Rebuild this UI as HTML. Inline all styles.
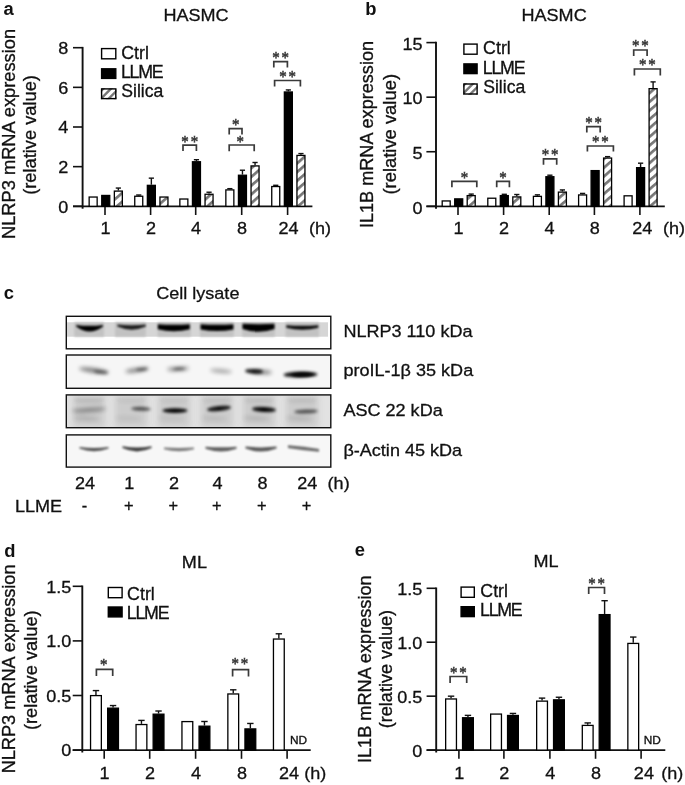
<!DOCTYPE html>
<html lang="en"><head><meta charset="utf-8"><title>Figure</title>
<style>
html,body{margin:0;padding:0;background:#fff;}
body{width:685px;height:785px;overflow:hidden;}
svg{display:block;}
.s{font-family:"Liberation Sans",Arial,Helvetica,sans-serif;}
.r{font-family:"Liberation Serif","Times New Roman",serif;}
</style></head><body>
<svg width="685" height="785" viewBox="0 0 685 785">
<defs>
<pattern id="hatch" patternUnits="userSpaceOnUse" width="6.6" height="6.6" patternTransform="rotate(-41)">
<rect x="0" y="0" width="6.6" height="6.6" fill="#fff"/>
<rect x="0" y="0" width="6.6" height="2.7" fill="#777"/>
</pattern>
<filter id="b05" x="-20%" y="-50%" width="140%" height="200%"><feGaussianBlur stdDeviation="0.8"/></filter>
<filter id="b08" x="-20%" y="-100%" width="140%" height="300%"><feGaussianBlur stdDeviation="0.8"/></filter>
<filter id="b1" x="-20%" y="-100%" width="140%" height="300%"><feGaussianBlur stdDeviation="1.0"/></filter>
<filter id="b12" x="-20%" y="-100%" width="140%" height="300%"><feGaussianBlur stdDeviation="1.25"/></filter>
<filter id="b15" x="-30%" y="-200%" width="160%" height="500%"><feGaussianBlur stdDeviation="1.5"/></filter>
<filter id="b2" x="-30%" y="-200%" width="160%" height="500%"><feGaussianBlur stdDeviation="2.2"/></filter>
<filter id="b3" x="-30%" y="-30%" width="160%" height="160%"><feGaussianBlur stdDeviation="3"/></filter>
</defs>
<rect width="685" height="785" fill="#fff"/>
<clipPath id="cb0"><rect x="66.3" y="316.3" width="264.5" height="32.5"/></clipPath>
<clipPath id="cb1"><rect x="66.3" y="355.0" width="264.5" height="33.30000000000001"/></clipPath>
<clipPath id="cb2"><rect x="66.3" y="394.9" width="264.5" height="32.80000000000001"/></clipPath>
<clipPath id="cb3"><rect x="66.3" y="434.9" width="264.5" height="32.200000000000045"/></clipPath>
<g clip-path="url(#cb0)">
<rect x="66.3" y="316.3" width="264.5" height="32.5" fill="#fff"/>
<rect x="66.3" y="322.3" width="261.7" height="14.4" fill="#d6d6d6"/>
<rect x="74.3" y="322.3" width="29.700000000000003" height="14.4" fill="#c2c2c2" filter="url(#b05)"/>
<rect x="115.0" y="322.3" width="30.80000000000001" height="14.4" fill="#c2c2c2" filter="url(#b05)"/>
<rect x="157.7" y="322.3" width="33.10000000000002" height="14.4" fill="#c2c2c2" filter="url(#b05)"/>
<rect x="200.0" y="322.3" width="33.80000000000001" height="14.4" fill="#c2c2c2" filter="url(#b05)"/>
<rect x="242.2" y="322.3" width="32.60000000000002" height="14.4" fill="#c2c2c2" filter="url(#b05)"/>
<rect x="285.5" y="322.3" width="33.5" height="14.4" fill="#c2c2c2" filter="url(#b05)"/>
<path d="M76.2,324.9 Q89.6,326.7 103.0,324.9 L103.0,326.5 Q89.6,336.6 76.2,326.5 Z" fill="#000" opacity="1.0" filter="url(#b08)"/>
<path d="M117.4,324.6 Q131.6,325.8 145.8,324.6 L145.8,326.6 Q131.6,332.8 117.4,326.6 Z" fill="#000" opacity="0.85" filter="url(#b1)"/>
<path d="M157.8,324.2 Q173.8,325.2 189.8,324.2 L189.8,329.2 Q173.8,333.3 157.8,329.2 Z" fill="#000" opacity="1.0" filter="url(#b08)"/>
<path d="M200.6,324.2 Q217.0,325.4 233.4,324.2 L233.4,329.4 Q217.0,332.8 200.6,329.4 Z" fill="#000" opacity="1.0" filter="url(#b08)"/>
<path d="M242.5,323.8 Q258.5,324.6 274.5,323.8 L274.5,329.0 Q258.5,334.6 242.5,329.0 Z" fill="#000" opacity="1.0" filter="url(#b08)"/>
<path d="M286.3,325.2 Q302.3,326.4 318.3,325.2 L318.3,327.8 Q302.3,331.6 286.3,327.8 Z" fill="#000" opacity="0.95" filter="url(#b08)"/>
</g>
<g clip-path="url(#cb1)">
<rect x="66.3" y="355.0" width="264.5" height="33.30000000000001" fill="#f6f6f6"/>
<ellipse cx="94.0" cy="370.5" rx="15.0" ry="2.2" fill="#000" opacity="0.55" filter="url(#b2)" transform="rotate(8 94.0 370.5)"/>
<ellipse cx="101.0" cy="372.0" rx="7.0" ry="1.6" fill="#000" opacity="0.45" filter="url(#b15)" transform="rotate(6 101.0 372.0)"/>
<ellipse cx="137.0" cy="370.0" rx="12.0" ry="2.0" fill="#000" opacity="0.5" filter="url(#b2)" transform="rotate(-8 137.0 370.0)"/>
<ellipse cx="142.0" cy="369.3" rx="6.0" ry="1.4" fill="#000" opacity="0.45" filter="url(#b15)" transform="rotate(-6 142.0 369.3)"/>
<ellipse cx="178.0" cy="368.8" rx="11.0" ry="1.9" fill="#000" opacity="0.5" filter="url(#b2)" transform="rotate(-3 178.0 368.8)"/>
<ellipse cx="179.0" cy="368.8" rx="6.0" ry="1.3" fill="#000" opacity="0.4" filter="url(#b15)" transform="rotate(-3 179.0 368.8)"/>
<ellipse cx="221.0" cy="371.0" rx="11.0" ry="1.8" fill="#000" opacity="0.38" filter="url(#b2)" transform="rotate(5 221.0 371.0)"/>
<ellipse cx="254.0" cy="371.3" rx="9.0" ry="2.4" fill="#000" opacity="0.9" filter="url(#b15)" transform="rotate(3 254.0 371.3)"/>
<ellipse cx="262.0" cy="372.0" rx="10.0" ry="2.0" fill="#000" opacity="0.5" filter="url(#b2)" transform="rotate(3 262.0 372.0)"/>
<ellipse cx="300.5" cy="374.5" rx="17.0" ry="3.0" fill="#000" opacity="0.95" filter="url(#b15)" transform="rotate(-1 300.5 374.5)"/>
<ellipse cx="303.0" cy="374.8" rx="11.0" ry="2.0" fill="#000" opacity="0.7" filter="url(#b1)" transform="rotate(-1 303.0 374.8)"/>
</g>
<g clip-path="url(#cb2)">
<rect x="66.3" y="394.9" width="264.5" height="32.80000000000001" fill="#e2e2e2"/>
<rect x="73" y="394.9" width="32" height="32.80000000000001" fill="#c4c4c4" opacity="0.75" filter="url(#b3)"/>
<rect x="115" y="394.9" width="32" height="32.80000000000001" fill="#c4c4c4" opacity="0.75" filter="url(#b3)"/>
<rect x="158" y="394.9" width="32" height="32.80000000000001" fill="#c4c4c4" opacity="0.75" filter="url(#b3)"/>
<rect x="201" y="394.9" width="32" height="32.80000000000001" fill="#c4c4c4" opacity="0.75" filter="url(#b3)"/>
<rect x="243" y="394.9" width="32" height="32.80000000000001" fill="#c4c4c4" opacity="0.75" filter="url(#b3)"/>
<rect x="286" y="394.9" width="32" height="32.80000000000001" fill="#c4c4c4" opacity="0.75" filter="url(#b3)"/>
<ellipse cx="89.0" cy="400.5" rx="15.0" ry="1.6" fill="#000" opacity="0.1375" filter="url(#b2)" transform="rotate(0 89.0 400.5)"/>
<ellipse cx="86.0" cy="418.5" rx="13.0" ry="2.4" fill="#000" opacity="0.125" filter="url(#b2)" transform="rotate(3 86.0 418.5)"/>
<ellipse cx="131.0" cy="400.5" rx="15.0" ry="1.6" fill="#000" opacity="0.066" filter="url(#b2)" transform="rotate(0 131.0 400.5)"/>
<ellipse cx="128.0" cy="418.5" rx="13.0" ry="2.4" fill="#000" opacity="0.06" filter="url(#b2)" transform="rotate(3 128.0 418.5)"/>
<ellipse cx="174.0" cy="400.5" rx="15.0" ry="1.6" fill="#000" opacity="0.066" filter="url(#b2)" transform="rotate(0 174.0 400.5)"/>
<ellipse cx="171.0" cy="418.5" rx="13.0" ry="2.4" fill="#000" opacity="0.06" filter="url(#b2)" transform="rotate(3 171.0 418.5)"/>
<ellipse cx="217.0" cy="400.5" rx="15.0" ry="1.6" fill="#000" opacity="0.0825" filter="url(#b2)" transform="rotate(0 217.0 400.5)"/>
<ellipse cx="214.0" cy="418.5" rx="13.0" ry="2.4" fill="#000" opacity="0.075" filter="url(#b2)" transform="rotate(3 214.0 418.5)"/>
<ellipse cx="259.0" cy="400.5" rx="15.0" ry="1.6" fill="#000" opacity="0.11000000000000001" filter="url(#b2)" transform="rotate(0 259.0 400.5)"/>
<ellipse cx="256.0" cy="418.5" rx="13.0" ry="2.4" fill="#000" opacity="0.1" filter="url(#b2)" transform="rotate(3 256.0 418.5)"/>
<ellipse cx="302.0" cy="400.5" rx="15.0" ry="1.6" fill="#000" opacity="0.11000000000000001" filter="url(#b2)" transform="rotate(0 302.0 400.5)"/>
<ellipse cx="299.0" cy="418.5" rx="13.0" ry="2.4" fill="#000" opacity="0.1" filter="url(#b2)" transform="rotate(3 299.0 418.5)"/>
<ellipse cx="89.0" cy="410.0" rx="17.0" ry="2.0" fill="#000" opacity="0.38" filter="url(#b2)" transform="rotate(-4 89.0 410.0)"/>
<ellipse cx="141.0" cy="408.8" rx="10.0" ry="2.0" fill="#000" opacity="0.6" filter="url(#b15)" transform="rotate(2 141.0 408.8)"/>
<ellipse cx="175.0" cy="410.6" rx="12.5" ry="2.4" fill="#000" opacity="1.0" filter="url(#b15)" transform="rotate(0 175.0 410.6)"/>
<ellipse cx="219.0" cy="408.5" rx="12.0" ry="2.4" fill="#000" opacity="0.95" filter="url(#b15)" transform="rotate(-6 219.0 408.5)"/>
<ellipse cx="264.0" cy="409.5" rx="12.0" ry="2.6" fill="#000" opacity="1.0" filter="url(#b15)" transform="rotate(3 264.0 409.5)"/>
<ellipse cx="306.0" cy="411.5" rx="12.0" ry="2.0" fill="#000" opacity="0.6" filter="url(#b15)" transform="rotate(-2 306.0 411.5)"/>
</g>
<g clip-path="url(#cb3)">
<rect x="66.3" y="434.9" width="264.5" height="32.200000000000045" fill="#f7f7f7"/>
<path d="M79.5,447.0 Q94.0,449.0 108.5,447.0 L108.5,448.5 Q94.0,453.8 79.5,448.5 Z" fill="#000" opacity="0.68" filter="url(#b12)"/>
<path d="M122.5,446.3 Q137.0,448.9 151.5,446.3 L151.5,448.1 Q137.0,454.7 122.5,448.1 Z" fill="#000" opacity="0.76" filter="url(#b12)"/>
<path d="M164.0,447.6 Q179.0,448.4 194.0,447.6 L194.0,449.2 Q179.0,453.5 164.0,449.2 Z" fill="#000" opacity="0.5" filter="url(#b12)"/>
<path d="M205.5,446.7 Q221.0,447.7 236.5,446.7 L236.5,448.7 Q221.0,454.1 205.5,448.7 Z" fill="#000" opacity="0.62" filter="url(#b12)"/>
<path d="M245.5,446.6 Q261.0,448.2 276.5,446.6 L276.5,448.6 Q261.0,454.6 245.5,448.6 Z" fill="#000" opacity="0.64" filter="url(#b12)"/>
<path d="M288,445.2 Q304,446.2 319,449.0 L319,451.8 Q304,450.6 288,448.0 Z" fill="#000" opacity="0.58" filter="url(#b12)"/>
</g>
<rect x="66.3" y="316.3" width="264.5" height="32.5" fill="none" stroke="#111" stroke-width="1.4"/>
<rect x="66.3" y="355.0" width="264.5" height="33.30000000000001" fill="none" stroke="#111" stroke-width="1.4"/>
<rect x="66.3" y="394.9" width="264.5" height="32.80000000000001" fill="none" stroke="#111" stroke-width="1.4"/>
<rect x="66.3" y="434.9" width="264.5" height="32.200000000000045" fill="none" stroke="#111" stroke-width="1.4"/>
<text transform="translate(343.40,337.15) scale(1.05,1)" font-size="17.2" text-anchor="start" class="s" font-weight="normal" fill="#111" stroke="#111" stroke-width="0.3" >NLRP3 110 kDa</text>
<text transform="translate(343.40,376.25) scale(1.05,1)" font-size="17.2" text-anchor="start" class="s" font-weight="normal" fill="#111" stroke="#111" stroke-width="0.3" >proIL-1β 35 kDa</text>
<text transform="translate(343.40,415.90) scale(1.05,1)" font-size="17.2" text-anchor="start" class="s" font-weight="normal" fill="#111" stroke="#111" stroke-width="0.3" >ASC 22 kDa</text>
<text transform="translate(343.40,455.60) scale(1.05,1)" font-size="17.2" text-anchor="start" class="s" font-weight="normal" fill="#111" stroke="#111" stroke-width="0.3" >β-Actin 45 kDa</text>
<text transform="translate(85.10,489.30) scale(1.05,1)" font-size="17.2" text-anchor="middle" class="s" font-weight="normal" fill="#111" stroke="#111" stroke-width="0.3" >24</text>
<text transform="translate(129.30,489.30) scale(1.05,1)" font-size="17.2" text-anchor="middle" class="s" font-weight="normal" fill="#111" stroke="#111" stroke-width="0.3" >1</text>
<text transform="translate(174.00,489.30) scale(1.05,1)" font-size="17.2" text-anchor="middle" class="s" font-weight="normal" fill="#111" stroke="#111" stroke-width="0.3" >2</text>
<text transform="translate(217.40,489.30) scale(1.05,1)" font-size="17.2" text-anchor="middle" class="s" font-weight="normal" fill="#111" stroke="#111" stroke-width="0.3" >4</text>
<text transform="translate(262.40,489.30) scale(1.05,1)" font-size="17.2" text-anchor="middle" class="s" font-weight="normal" fill="#111" stroke="#111" stroke-width="0.3" >8</text>
<text transform="translate(307.20,489.30) scale(1.05,1)" font-size="17.2" text-anchor="middle" class="s" font-weight="normal" fill="#111" stroke="#111" stroke-width="0.3" >24</text>
<text transform="translate(327.60,489.30) scale(1.05,1)" font-size="17.2" text-anchor="start" class="s" font-weight="normal" fill="#111" stroke="#111" stroke-width="0.3" >(h)</text>
<text transform="translate(15.00,512.30) scale(1.05,1)" font-size="17.2" text-anchor="start" class="s" font-weight="normal" fill="#111" stroke="#111" stroke-width="0.3" >LLME</text>
<text transform="translate(84.50,511.40) scale(1.05,1)" font-size="15.6" text-anchor="middle" class="s" font-weight="normal" fill="#111" stroke="#111" stroke-width="0.3" >-</text>
<text transform="translate(128.70,511.00) scale(1.05,1)" font-size="15.6" text-anchor="middle" class="s" font-weight="normal" fill="#111" stroke="#111" stroke-width="0.3" >+</text>
<text transform="translate(173.40,511.00) scale(1.05,1)" font-size="15.6" text-anchor="middle" class="s" font-weight="normal" fill="#111" stroke="#111" stroke-width="0.3" >+</text>
<text transform="translate(216.80,511.00) scale(1.05,1)" font-size="15.6" text-anchor="middle" class="s" font-weight="normal" fill="#111" stroke="#111" stroke-width="0.3" >+</text>
<text transform="translate(261.80,511.00) scale(1.05,1)" font-size="15.6" text-anchor="middle" class="s" font-weight="normal" fill="#111" stroke="#111" stroke-width="0.3" >+</text>
<text transform="translate(306.60,511.00) scale(1.05,1)" font-size="15.6" text-anchor="middle" class="s" font-weight="normal" fill="#111" stroke="#111" stroke-width="0.3" >+</text>
<text transform="translate(197.80,298.60) scale(1.05,1)" font-size="17.2" text-anchor="middle" class="s" font-weight="normal" fill="#111" stroke="#111" stroke-width="0.3" >Cell lysate</text>
<text transform="translate(3.80,299.10) scale(1.05,1)" font-size="17.5" text-anchor="start" class="s" font-weight="bold" fill="#111"  >c</text>
<line x1="82.60" y1="46.90" x2="82.60" y2="208.70" stroke="#111" stroke-width="1.9" stroke-linecap="butt"/>
<line x1="73.00" y1="206.30" x2="312.40" y2="206.30" stroke="#111" stroke-width="1.7" stroke-linecap="butt"/>
<line x1="73.00" y1="206.30" x2="82.60" y2="206.30" stroke="#111" stroke-width="1.6" stroke-linecap="butt"/>
<text transform="translate(68.20,212.50) scale(1.05,1)" font-size="17.2" text-anchor="end" class="s" font-weight="normal" fill="#111" stroke="#111" stroke-width="0.3" >0</text>
<line x1="73.00" y1="166.65" x2="82.60" y2="166.65" stroke="#111" stroke-width="1.6" stroke-linecap="butt"/>
<text transform="translate(68.20,172.85) scale(1.05,1)" font-size="17.2" text-anchor="end" class="s" font-weight="normal" fill="#111" stroke="#111" stroke-width="0.3" >2</text>
<line x1="73.00" y1="127.00" x2="82.60" y2="127.00" stroke="#111" stroke-width="1.6" stroke-linecap="butt"/>
<text transform="translate(68.20,133.20) scale(1.05,1)" font-size="17.2" text-anchor="end" class="s" font-weight="normal" fill="#111" stroke="#111" stroke-width="0.3" >4</text>
<line x1="73.00" y1="87.35" x2="82.60" y2="87.35" stroke="#111" stroke-width="1.6" stroke-linecap="butt"/>
<text transform="translate(68.20,93.55) scale(1.05,1)" font-size="17.2" text-anchor="end" class="s" font-weight="normal" fill="#111" stroke="#111" stroke-width="0.3" >6</text>
<line x1="73.00" y1="47.70" x2="82.60" y2="47.70" stroke="#111" stroke-width="1.6" stroke-linecap="butt"/>
<text transform="translate(68.20,53.90) scale(1.05,1)" font-size="17.2" text-anchor="end" class="s" font-weight="normal" fill="#111" stroke="#111" stroke-width="0.3" >8</text>
<line x1="105.00" y1="206.30" x2="105.00" y2="215.00" stroke="#111" stroke-width="1.6" stroke-linecap="butt"/>
<text transform="translate(105.40,233.60) scale(1.05,1)" font-size="17.2" text-anchor="middle" class="s" font-weight="normal" fill="#111" stroke="#111" stroke-width="0.3" >1</text>
<line x1="150.60" y1="206.30" x2="150.60" y2="215.00" stroke="#111" stroke-width="1.6" stroke-linecap="butt"/>
<text transform="translate(151.00,233.60) scale(1.05,1)" font-size="17.2" text-anchor="middle" class="s" font-weight="normal" fill="#111" stroke="#111" stroke-width="0.3" >2</text>
<line x1="195.70" y1="206.30" x2="195.70" y2="215.00" stroke="#111" stroke-width="1.6" stroke-linecap="butt"/>
<text transform="translate(196.10,233.60) scale(1.05,1)" font-size="17.2" text-anchor="middle" class="s" font-weight="normal" fill="#111" stroke="#111" stroke-width="0.3" >4</text>
<line x1="241.70" y1="206.30" x2="241.70" y2="215.00" stroke="#111" stroke-width="1.6" stroke-linecap="butt"/>
<text transform="translate(242.10,233.60) scale(1.05,1)" font-size="17.2" text-anchor="middle" class="s" font-weight="normal" fill="#111" stroke="#111" stroke-width="0.3" >8</text>
<line x1="287.60" y1="206.30" x2="287.60" y2="215.00" stroke="#111" stroke-width="1.6" stroke-linecap="butt"/>
<text transform="translate(288.50,233.60) scale(1.05,1)" font-size="17.2" text-anchor="middle" class="s" font-weight="normal" fill="#111" stroke="#111" stroke-width="0.3" >24</text>
<text transform="translate(309.00,233.60) scale(1.05,1)" font-size="17.2" text-anchor="start" class="s" font-weight="normal" fill="#111" stroke="#111" stroke-width="0.3" >(h)</text>
<rect x="89.15" y="197.04" width="8.00" height="9.26" fill="#fff" stroke="#000" stroke-width="1.3"/>
<rect x="101.75" y="195.45" width="8.00" height="10.85" fill="#000" stroke="#000" stroke-width="1.3"/>
<line x1="118.35" y1="190.44" x2="118.35" y2="188.06" stroke="#111" stroke-width="1.4" stroke-linecap="butt"/>
<line x1="115.75" y1="188.06" x2="120.95" y2="188.06" stroke="#111" stroke-width="1.4" stroke-linecap="butt"/>
<rect x="114.35" y="191.09" width="8.00" height="15.21" fill="url(#hatch)" stroke="#000" stroke-width="1.3"/>
<line x1="138.75" y1="195.59" x2="138.75" y2="195.00" stroke="#111" stroke-width="1.4" stroke-linecap="butt"/>
<line x1="136.15" y1="195.00" x2="141.35" y2="195.00" stroke="#111" stroke-width="1.4" stroke-linecap="butt"/>
<rect x="134.75" y="196.24" width="8.00" height="10.06" fill="#fff" stroke="#000" stroke-width="1.3"/>
<line x1="151.35" y1="184.69" x2="151.35" y2="178.15" stroke="#111" stroke-width="1.4" stroke-linecap="butt"/>
<line x1="148.75" y1="178.15" x2="153.95" y2="178.15" stroke="#111" stroke-width="1.4" stroke-linecap="butt"/>
<rect x="147.35" y="185.34" width="8.00" height="20.96" fill="#000" stroke="#000" stroke-width="1.3"/>
<rect x="159.95" y="197.04" width="8.00" height="9.26" fill="url(#hatch)" stroke="#000" stroke-width="1.3"/>
<rect x="179.85" y="199.02" width="8.00" height="7.28" fill="#fff" stroke="#000" stroke-width="1.3"/>
<line x1="196.45" y1="161.10" x2="196.45" y2="159.71" stroke="#111" stroke-width="1.4" stroke-linecap="butt"/>
<line x1="193.85" y1="159.71" x2="199.05" y2="159.71" stroke="#111" stroke-width="1.4" stroke-linecap="butt"/>
<rect x="192.45" y="161.75" width="8.00" height="44.55" fill="#000" stroke="#000" stroke-width="1.3"/>
<line x1="209.05" y1="193.61" x2="209.05" y2="192.22" stroke="#111" stroke-width="1.4" stroke-linecap="butt"/>
<line x1="206.45" y1="192.22" x2="211.65" y2="192.22" stroke="#111" stroke-width="1.4" stroke-linecap="butt"/>
<rect x="205.05" y="194.26" width="8.00" height="12.04" fill="url(#hatch)" stroke="#000" stroke-width="1.3"/>
<line x1="229.85" y1="189.25" x2="229.85" y2="188.66" stroke="#111" stroke-width="1.4" stroke-linecap="butt"/>
<line x1="227.25" y1="188.66" x2="232.45" y2="188.66" stroke="#111" stroke-width="1.4" stroke-linecap="butt"/>
<rect x="225.85" y="189.90" width="8.00" height="16.40" fill="#fff" stroke="#000" stroke-width="1.3"/>
<line x1="242.45" y1="174.58" x2="242.45" y2="170.22" stroke="#111" stroke-width="1.4" stroke-linecap="butt"/>
<line x1="239.85" y1="170.22" x2="245.05" y2="170.22" stroke="#111" stroke-width="1.4" stroke-linecap="butt"/>
<rect x="238.45" y="175.23" width="8.00" height="31.07" fill="#000" stroke="#000" stroke-width="1.3"/>
<line x1="255.05" y1="165.26" x2="255.05" y2="162.49" stroke="#111" stroke-width="1.4" stroke-linecap="butt"/>
<line x1="252.45" y1="162.49" x2="257.65" y2="162.49" stroke="#111" stroke-width="1.4" stroke-linecap="butt"/>
<rect x="251.05" y="165.91" width="8.00" height="40.39" fill="url(#hatch)" stroke="#000" stroke-width="1.3"/>
<line x1="275.75" y1="185.88" x2="275.75" y2="185.29" stroke="#111" stroke-width="1.4" stroke-linecap="butt"/>
<line x1="273.15" y1="185.29" x2="278.35" y2="185.29" stroke="#111" stroke-width="1.4" stroke-linecap="butt"/>
<rect x="271.75" y="186.53" width="8.00" height="19.77" fill="#fff" stroke="#000" stroke-width="1.3"/>
<line x1="288.35" y1="91.31" x2="288.35" y2="89.93" stroke="#111" stroke-width="1.4" stroke-linecap="butt"/>
<line x1="285.75" y1="89.93" x2="290.95" y2="89.93" stroke="#111" stroke-width="1.4" stroke-linecap="butt"/>
<rect x="284.35" y="91.97" width="8.00" height="114.34" fill="#000" stroke="#000" stroke-width="1.3"/>
<line x1="300.95" y1="154.75" x2="300.95" y2="153.57" stroke="#111" stroke-width="1.4" stroke-linecap="butt"/>
<line x1="298.35" y1="153.57" x2="303.55" y2="153.57" stroke="#111" stroke-width="1.4" stroke-linecap="butt"/>
<rect x="296.95" y="155.41" width="8.00" height="50.90" fill="url(#hatch)" stroke="#000" stroke-width="1.3"/>
<rect x="101.60" y="48.60" width="14.20" height="10.20" fill="#fff" stroke="#000" stroke-width="1.4"/>
<text transform="translate(121.20,58.70) scale(1.0,1)" font-size="17.8" text-anchor="start" class="s" font-weight="normal" fill="#111" stroke="#111" stroke-width="0.3" >Ctrl</text>
<rect x="101.60" y="68.80" width="14.20" height="9.60" fill="#000" stroke="#000" stroke-width="1.4"/>
<text transform="translate(120.90,78.10) scale(1.0,1)" font-size="17.8" text-anchor="start" class="s" font-weight="normal" fill="#111" stroke="#111" stroke-width="0.3"  letter-spacing="-1.25">LLME</text>
<clipPath id="lg100"><rect x="100.90" y="88.20" width="15.60" height="11.10"/></clipPath>
<rect x="100.90" y="88.20" width="15.60" height="11.10" fill="#fff"/>
<line x1="88.20" y1="103.75" x2="108.20" y2="83.75" stroke="#777" stroke-width="2.4" clip-path="url(#lg100)"/>
<line x1="95.90" y1="103.75" x2="115.90" y2="83.75" stroke="#777" stroke-width="2.4" clip-path="url(#lg100)"/>
<line x1="103.60" y1="103.75" x2="123.60" y2="83.75" stroke="#777" stroke-width="2.4" clip-path="url(#lg100)"/>
<line x1="111.30" y1="103.75" x2="131.30" y2="83.75" stroke="#777" stroke-width="2.4" clip-path="url(#lg100)"/>
<rect x="101.60" y="88.90" width="14.20" height="9.70" fill="none" stroke="#000" stroke-width="1.4"/>
<text transform="translate(121.30,96.90) scale(0.99,1)" font-size="17.8" text-anchor="start" class="s" font-weight="normal" fill="#111" stroke="#111" stroke-width="0.3" >Silica</text>
<path d="M183.00,151.10 V145.20 H196.40 V151.10" fill="none" stroke="#3a3a3a" stroke-width="1.7"/>
<text transform="translate(185.05,146.73) scale(0.93,1)" font-size="16.0" text-anchor="middle" class="r" fill="#3a3a3a" stroke="#3a3a3a" stroke-width="0.55">*</text>
<text transform="translate(194.35,146.73) scale(0.93,1)" font-size="16.0" text-anchor="middle" class="r" fill="#3a3a3a" stroke="#3a3a3a" stroke-width="0.55">*</text>
<path d="M229.20,134.50 V128.60 H242.00 V134.50" fill="none" stroke="#3a3a3a" stroke-width="1.7"/>
<text transform="translate(235.60,129.83) scale(0.93,1)" font-size="16.0" text-anchor="middle" class="r" fill="#3a3a3a" stroke="#3a3a3a" stroke-width="0.55">*</text>
<path d="M229.20,151.20 V145.00 H254.20 V151.20" fill="none" stroke="#3a3a3a" stroke-width="1.7"/>
<text transform="translate(240.10,146.73) scale(0.93,1)" font-size="16.0" text-anchor="middle" class="r" fill="#3a3a3a" stroke="#3a3a3a" stroke-width="0.55">*</text>
<path d="M273.80,67.50 V61.60 H287.40 V67.50" fill="none" stroke="#3a3a3a" stroke-width="1.7"/>
<text transform="translate(275.95,62.83) scale(0.93,1)" font-size="16.0" text-anchor="middle" class="r" fill="#3a3a3a" stroke="#3a3a3a" stroke-width="0.55">*</text>
<text transform="translate(285.25,62.83) scale(0.93,1)" font-size="16.0" text-anchor="middle" class="r" fill="#3a3a3a" stroke="#3a3a3a" stroke-width="0.55">*</text>
<path d="M274.60,86.60 V80.50 H300.40 V86.60" fill="none" stroke="#3a3a3a" stroke-width="1.7"/>
<text transform="translate(282.85,81.73) scale(0.93,1)" font-size="16.0" text-anchor="middle" class="r" fill="#3a3a3a" stroke="#3a3a3a" stroke-width="0.55">*</text>
<text transform="translate(292.15,81.73) scale(0.93,1)" font-size="16.0" text-anchor="middle" class="r" fill="#3a3a3a" stroke="#3a3a3a" stroke-width="0.55">*</text>
<text transform="translate(196.00,21.20) scale(1.05,1)" font-size="17.2" text-anchor="middle" class="s" font-weight="normal" fill="#111" stroke="#111" stroke-width="0.3" >HASMC</text>
<text transform="translate(3.60,14.70) scale(1.05,1)" font-size="17.5" text-anchor="start" class="s" font-weight="bold" fill="#111"  >a</text>
<text transform="translate(14.60,133.95) scale(1.05,1.062) rotate(-90)" font-size="17.2" text-anchor="middle" class="s" fill="#111" stroke="#111" stroke-width="0.3">NLRP3 mRNA expression</text>
<text transform="translate(36.00,135.00) scale(1.05,1.062) rotate(-90)" font-size="17.2" text-anchor="middle" class="s" fill="#111" stroke="#111" stroke-width="0.3">(relative value)</text>
<line x1="436.00" y1="41.80" x2="436.00" y2="208.70" stroke="#111" stroke-width="1.9" stroke-linecap="butt"/>
<line x1="426.40" y1="206.30" x2="664.80" y2="206.30" stroke="#111" stroke-width="1.7" stroke-linecap="butt"/>
<line x1="426.40" y1="206.30" x2="436.00" y2="206.30" stroke="#111" stroke-width="1.6" stroke-linecap="butt"/>
<text transform="translate(422.60,213.50) scale(1.05,1)" font-size="17.2" text-anchor="end" class="s" font-weight="normal" fill="#111" stroke="#111" stroke-width="0.3" >0</text>
<line x1="426.40" y1="151.73" x2="436.00" y2="151.73" stroke="#111" stroke-width="1.6" stroke-linecap="butt"/>
<text transform="translate(422.60,158.93) scale(1.05,1)" font-size="17.2" text-anchor="end" class="s" font-weight="normal" fill="#111" stroke="#111" stroke-width="0.3" >5</text>
<line x1="426.40" y1="97.17" x2="436.00" y2="97.17" stroke="#111" stroke-width="1.6" stroke-linecap="butt"/>
<text transform="translate(422.60,104.37) scale(1.05,1)" font-size="17.2" text-anchor="end" class="s" font-weight="normal" fill="#111" stroke="#111" stroke-width="0.3" >10</text>
<line x1="426.40" y1="42.60" x2="436.00" y2="42.60" stroke="#111" stroke-width="1.6" stroke-linecap="butt"/>
<text transform="translate(422.60,49.80) scale(1.05,1)" font-size="17.2" text-anchor="end" class="s" font-weight="normal" fill="#111" stroke="#111" stroke-width="0.3" >15</text>
<line x1="458.00" y1="206.30" x2="458.00" y2="215.00" stroke="#111" stroke-width="1.6" stroke-linecap="butt"/>
<text transform="translate(458.40,233.60) scale(1.05,1)" font-size="17.2" text-anchor="middle" class="s" font-weight="normal" fill="#111" stroke="#111" stroke-width="0.3" >1</text>
<line x1="503.60" y1="206.30" x2="503.60" y2="215.00" stroke="#111" stroke-width="1.6" stroke-linecap="butt"/>
<text transform="translate(504.00,233.60) scale(1.05,1)" font-size="17.2" text-anchor="middle" class="s" font-weight="normal" fill="#111" stroke="#111" stroke-width="0.3" >2</text>
<line x1="549.20" y1="206.30" x2="549.20" y2="215.00" stroke="#111" stroke-width="1.6" stroke-linecap="butt"/>
<text transform="translate(549.60,233.60) scale(1.05,1)" font-size="17.2" text-anchor="middle" class="s" font-weight="normal" fill="#111" stroke="#111" stroke-width="0.3" >4</text>
<line x1="594.40" y1="206.30" x2="594.40" y2="215.00" stroke="#111" stroke-width="1.6" stroke-linecap="butt"/>
<text transform="translate(594.80,233.60) scale(1.05,1)" font-size="17.2" text-anchor="middle" class="s" font-weight="normal" fill="#111" stroke="#111" stroke-width="0.3" >8</text>
<line x1="639.90" y1="206.30" x2="639.90" y2="215.00" stroke="#111" stroke-width="1.6" stroke-linecap="butt"/>
<text transform="translate(642.30,233.60) scale(1.05,1)" font-size="17.2" text-anchor="middle" class="s" font-weight="normal" fill="#111" stroke="#111" stroke-width="0.3" >24</text>
<text transform="translate(663.00,233.60) scale(1.05,1)" font-size="17.2" text-anchor="start" class="s" font-weight="normal" fill="#111" stroke="#111" stroke-width="0.3" >(h)</text>
<rect x="442.20" y="200.95" width="8.00" height="5.35" fill="#fff" stroke="#000" stroke-width="1.3"/>
<rect x="454.70" y="198.87" width="8.00" height="7.43" fill="#000" stroke="#000" stroke-width="1.3"/>
<line x1="471.20" y1="194.95" x2="471.20" y2="194.08" stroke="#111" stroke-width="1.4" stroke-linecap="butt"/>
<line x1="468.60" y1="194.08" x2="473.80" y2="194.08" stroke="#111" stroke-width="1.4" stroke-linecap="butt"/>
<rect x="467.20" y="195.60" width="8.00" height="10.70" fill="url(#hatch)" stroke="#000" stroke-width="1.3"/>
<rect x="487.80" y="198.22" width="8.00" height="8.08" fill="#fff" stroke="#000" stroke-width="1.3"/>
<line x1="504.30" y1="194.95" x2="504.30" y2="194.30" stroke="#111" stroke-width="1.4" stroke-linecap="butt"/>
<line x1="501.70" y1="194.30" x2="506.90" y2="194.30" stroke="#111" stroke-width="1.4" stroke-linecap="butt"/>
<rect x="500.30" y="195.60" width="8.00" height="10.70" fill="#000" stroke="#000" stroke-width="1.3"/>
<line x1="516.80" y1="196.26" x2="516.80" y2="194.51" stroke="#111" stroke-width="1.4" stroke-linecap="butt"/>
<line x1="514.20" y1="194.51" x2="519.40" y2="194.51" stroke="#111" stroke-width="1.4" stroke-linecap="butt"/>
<rect x="512.80" y="196.91" width="8.00" height="9.39" fill="url(#hatch)" stroke="#000" stroke-width="1.3"/>
<line x1="537.40" y1="195.71" x2="537.40" y2="194.84" stroke="#111" stroke-width="1.4" stroke-linecap="butt"/>
<line x1="534.80" y1="194.84" x2="540.00" y2="194.84" stroke="#111" stroke-width="1.4" stroke-linecap="butt"/>
<rect x="533.40" y="196.36" width="8.00" height="9.94" fill="#fff" stroke="#000" stroke-width="1.3"/>
<line x1="549.90" y1="176.07" x2="549.90" y2="175.20" stroke="#111" stroke-width="1.4" stroke-linecap="butt"/>
<line x1="547.30" y1="175.20" x2="552.50" y2="175.20" stroke="#111" stroke-width="1.4" stroke-linecap="butt"/>
<rect x="545.90" y="176.72" width="8.00" height="29.58" fill="#000" stroke="#000" stroke-width="1.3"/>
<line x1="562.40" y1="191.46" x2="562.40" y2="189.93" stroke="#111" stroke-width="1.4" stroke-linecap="butt"/>
<line x1="559.80" y1="189.93" x2="565.00" y2="189.93" stroke="#111" stroke-width="1.4" stroke-linecap="butt"/>
<rect x="558.40" y="192.11" width="8.00" height="14.19" fill="url(#hatch)" stroke="#000" stroke-width="1.3"/>
<line x1="582.60" y1="194.30" x2="582.60" y2="193.42" stroke="#111" stroke-width="1.4" stroke-linecap="butt"/>
<line x1="580.00" y1="193.42" x2="585.20" y2="193.42" stroke="#111" stroke-width="1.4" stroke-linecap="butt"/>
<rect x="578.60" y="194.95" width="8.00" height="11.35" fill="#fff" stroke="#000" stroke-width="1.3"/>
<rect x="591.10" y="170.61" width="8.00" height="35.69" fill="#000" stroke="#000" stroke-width="1.3"/>
<line x1="607.60" y1="157.41" x2="607.60" y2="156.64" stroke="#111" stroke-width="1.4" stroke-linecap="butt"/>
<line x1="605.00" y1="156.64" x2="610.20" y2="156.64" stroke="#111" stroke-width="1.4" stroke-linecap="butt"/>
<rect x="603.60" y="158.06" width="8.00" height="48.24" fill="url(#hatch)" stroke="#000" stroke-width="1.3"/>
<rect x="624.10" y="195.82" width="8.00" height="10.48" fill="#fff" stroke="#000" stroke-width="1.3"/>
<line x1="640.60" y1="167.01" x2="640.60" y2="163.19" stroke="#111" stroke-width="1.4" stroke-linecap="butt"/>
<line x1="638.00" y1="163.19" x2="643.20" y2="163.19" stroke="#111" stroke-width="1.4" stroke-linecap="butt"/>
<rect x="636.60" y="167.66" width="8.00" height="38.64" fill="#000" stroke="#000" stroke-width="1.3"/>
<line x1="653.10" y1="88.00" x2="653.10" y2="81.89" stroke="#111" stroke-width="1.4" stroke-linecap="butt"/>
<line x1="650.50" y1="81.89" x2="655.70" y2="81.89" stroke="#111" stroke-width="1.4" stroke-linecap="butt"/>
<rect x="649.10" y="88.65" width="8.00" height="117.65" fill="url(#hatch)" stroke="#000" stroke-width="1.3"/>
<rect x="463.90" y="44.10" width="13.20" height="10.10" fill="#fff" stroke="#000" stroke-width="1.4"/>
<text transform="translate(483.10,54.10) scale(1.0,1)" font-size="17.8" text-anchor="start" class="s" font-weight="normal" fill="#111" stroke="#111" stroke-width="0.3" >Ctrl</text>
<rect x="463.90" y="63.90" width="13.20" height="9.70" fill="#000" stroke="#000" stroke-width="1.4"/>
<text transform="translate(482.80,73.50) scale(1.0,1)" font-size="17.8" text-anchor="start" class="s" font-weight="normal" fill="#111" stroke="#111" stroke-width="0.3"  letter-spacing="-1.25">LLME</text>
<clipPath id="lg463"><rect x="463.20" y="83.30" width="14.60" height="11.40"/></clipPath>
<rect x="463.20" y="83.30" width="14.60" height="11.40" fill="#fff"/>
<line x1="450.00" y1="99.00" x2="470.00" y2="79.00" stroke="#777" stroke-width="2.4" clip-path="url(#lg463)"/>
<line x1="457.70" y1="99.00" x2="477.70" y2="79.00" stroke="#777" stroke-width="2.4" clip-path="url(#lg463)"/>
<line x1="465.40" y1="99.00" x2="485.40" y2="79.00" stroke="#777" stroke-width="2.4" clip-path="url(#lg463)"/>
<line x1="473.10" y1="99.00" x2="493.10" y2="79.00" stroke="#777" stroke-width="2.4" clip-path="url(#lg463)"/>
<rect x="463.90" y="84.00" width="13.20" height="10.00" fill="none" stroke="#000" stroke-width="1.4"/>
<text transform="translate(483.20,93.00) scale(0.99,1)" font-size="17.8" text-anchor="start" class="s" font-weight="normal" fill="#111" stroke="#111" stroke-width="0.3" >Silica</text>
<path d="M451.90,187.30 V181.40 H476.80 V187.30" fill="none" stroke="#3a3a3a" stroke-width="1.7"/>
<text transform="translate(464.35,182.63) scale(0.93,1)" font-size="16.0" text-anchor="middle" class="r" fill="#3a3a3a" stroke="#3a3a3a" stroke-width="0.55">*</text>
<path d="M496.70,187.30 V181.40 H509.40 V187.30" fill="none" stroke="#3a3a3a" stroke-width="1.7"/>
<text transform="translate(503.05,182.63) scale(0.93,1)" font-size="16.0" text-anchor="middle" class="r" fill="#3a3a3a" stroke="#3a3a3a" stroke-width="0.55">*</text>
<path d="M543.50,164.80 V158.90 H556.70 V164.80" fill="none" stroke="#3a3a3a" stroke-width="1.7"/>
<text transform="translate(545.45,160.13) scale(0.93,1)" font-size="16.0" text-anchor="middle" class="r" fill="#3a3a3a" stroke="#3a3a3a" stroke-width="0.55">*</text>
<text transform="translate(554.75,160.13) scale(0.93,1)" font-size="16.0" text-anchor="middle" class="r" fill="#3a3a3a" stroke="#3a3a3a" stroke-width="0.55">*</text>
<path d="M586.80,132.50 V126.70 H600.20 V132.50" fill="none" stroke="#3a3a3a" stroke-width="1.7"/>
<text transform="translate(588.85,127.93) scale(0.93,1)" font-size="16.0" text-anchor="middle" class="r" fill="#3a3a3a" stroke="#3a3a3a" stroke-width="0.55">*</text>
<text transform="translate(598.15,127.93) scale(0.93,1)" font-size="16.0" text-anchor="middle" class="r" fill="#3a3a3a" stroke="#3a3a3a" stroke-width="0.55">*</text>
<path d="M587.40,151.60 V146.00 H613.40 V151.60" fill="none" stroke="#3a3a3a" stroke-width="1.7"/>
<text transform="translate(595.75,147.23) scale(0.93,1)" font-size="16.0" text-anchor="middle" class="r" fill="#3a3a3a" stroke="#3a3a3a" stroke-width="0.55">*</text>
<text transform="translate(605.05,147.23) scale(0.93,1)" font-size="16.0" text-anchor="middle" class="r" fill="#3a3a3a" stroke="#3a3a3a" stroke-width="0.55">*</text>
<path d="M633.70,56.10 V50.00 H647.10 V56.10" fill="none" stroke="#3a3a3a" stroke-width="1.7"/>
<text transform="translate(635.75,51.23) scale(0.93,1)" font-size="16.0" text-anchor="middle" class="r" fill="#3a3a3a" stroke="#3a3a3a" stroke-width="0.55">*</text>
<text transform="translate(645.05,51.23) scale(0.93,1)" font-size="16.0" text-anchor="middle" class="r" fill="#3a3a3a" stroke="#3a3a3a" stroke-width="0.55">*</text>
<path d="M634.40,75.40 V69.00 H660.30 V75.40" fill="none" stroke="#3a3a3a" stroke-width="1.7"/>
<text transform="translate(642.70,70.23) scale(0.93,1)" font-size="16.0" text-anchor="middle" class="r" fill="#3a3a3a" stroke="#3a3a3a" stroke-width="0.55">*</text>
<text transform="translate(652.00,70.23) scale(0.93,1)" font-size="16.0" text-anchor="middle" class="r" fill="#3a3a3a" stroke="#3a3a3a" stroke-width="0.55">*</text>
<text transform="translate(554.10,21.00) scale(1.05,1)" font-size="17.2" text-anchor="middle" class="s" font-weight="normal" fill="#111" stroke="#111" stroke-width="0.3" >HASMC</text>
<text transform="translate(365.20,14.90) scale(1.05,1)" font-size="17.5" text-anchor="start" class="s" font-weight="bold" fill="#111"  >b</text>
<text transform="translate(373.40,134.50) scale(1.05,1.053) rotate(-90)" font-size="17.2" text-anchor="middle" class="s" fill="#111" stroke="#111" stroke-width="0.3">IL1B mRNA expression</text>
<text transform="translate(395.60,134.30) scale(1.05,1.07) rotate(-90)" font-size="17.2" text-anchor="middle" class="s" fill="#111" stroke="#111" stroke-width="0.3">(relative value)</text>
<line x1="82.30" y1="585.50" x2="82.30" y2="752.50" stroke="#111" stroke-width="1.9" stroke-linecap="butt"/>
<line x1="72.70" y1="750.10" x2="310.70" y2="750.10" stroke="#111" stroke-width="1.7" stroke-linecap="butt"/>
<line x1="72.70" y1="750.10" x2="82.30" y2="750.10" stroke="#111" stroke-width="1.6" stroke-linecap="butt"/>
<text transform="translate(71.40,756.30) scale(1.05,1)" font-size="17.2" text-anchor="end" class="s" font-weight="normal" fill="#111" stroke="#111" stroke-width="0.3" >0</text>
<line x1="72.70" y1="695.50" x2="82.30" y2="695.50" stroke="#111" stroke-width="1.6" stroke-linecap="butt"/>
<text transform="translate(71.40,701.70) scale(1.05,1)" font-size="17.2" text-anchor="end" class="s" font-weight="normal" fill="#111" stroke="#111" stroke-width="0.3" >0.5</text>
<line x1="72.70" y1="640.90" x2="82.30" y2="640.90" stroke="#111" stroke-width="1.6" stroke-linecap="butt"/>
<text transform="translate(71.40,647.10) scale(1.05,1)" font-size="17.2" text-anchor="end" class="s" font-weight="normal" fill="#111" stroke="#111" stroke-width="0.3" >1.0</text>
<line x1="72.70" y1="586.30" x2="82.30" y2="586.30" stroke="#111" stroke-width="1.6" stroke-linecap="butt"/>
<text transform="translate(71.40,592.50) scale(1.05,1)" font-size="17.2" text-anchor="end" class="s" font-weight="normal" fill="#111" stroke="#111" stroke-width="0.3" >1.5</text>
<line x1="104.20" y1="750.10" x2="104.20" y2="758.80" stroke="#111" stroke-width="1.6" stroke-linecap="butt"/>
<text transform="translate(104.60,778.80) scale(1.05,1)" font-size="17.2" text-anchor="middle" class="s" font-weight="normal" fill="#111" stroke="#111" stroke-width="0.3" >1</text>
<line x1="149.70" y1="750.10" x2="149.70" y2="758.80" stroke="#111" stroke-width="1.6" stroke-linecap="butt"/>
<text transform="translate(150.10,778.80) scale(1.05,1)" font-size="17.2" text-anchor="middle" class="s" font-weight="normal" fill="#111" stroke="#111" stroke-width="0.3" >2</text>
<line x1="195.60" y1="750.10" x2="195.60" y2="758.80" stroke="#111" stroke-width="1.6" stroke-linecap="butt"/>
<text transform="translate(196.00,778.80) scale(1.05,1)" font-size="17.2" text-anchor="middle" class="s" font-weight="normal" fill="#111" stroke="#111" stroke-width="0.3" >4</text>
<line x1="241.50" y1="750.10" x2="241.50" y2="758.80" stroke="#111" stroke-width="1.6" stroke-linecap="butt"/>
<text transform="translate(241.90,778.80) scale(1.05,1)" font-size="17.2" text-anchor="middle" class="s" font-weight="normal" fill="#111" stroke="#111" stroke-width="0.3" >8</text>
<line x1="287.10" y1="750.10" x2="287.10" y2="758.80" stroke="#111" stroke-width="1.6" stroke-linecap="butt"/>
<text transform="translate(289.10,778.80) scale(1.05,1)" font-size="17.2" text-anchor="middle" class="s" font-weight="normal" fill="#111" stroke="#111" stroke-width="0.3" >24</text>
<text transform="translate(304.20,778.80) scale(1.05,1)" font-size="17.2" text-anchor="start" class="s" font-weight="normal" fill="#111" stroke="#111" stroke-width="0.3" >(h)</text>
<line x1="95.95" y1="694.95" x2="95.95" y2="690.59" stroke="#111" stroke-width="1.4" stroke-linecap="butt"/>
<line x1="92.75" y1="690.59" x2="99.15" y2="690.59" stroke="#111" stroke-width="1.4" stroke-linecap="butt"/>
<rect x="90.55" y="695.60" width="10.80" height="54.50" fill="#fff" stroke="#000" stroke-width="1.3"/>
<line x1="113.05" y1="707.51" x2="113.05" y2="705.55" stroke="#111" stroke-width="1.4" stroke-linecap="butt"/>
<line x1="109.85" y1="705.55" x2="116.25" y2="705.55" stroke="#111" stroke-width="1.4" stroke-linecap="butt"/>
<rect x="107.65" y="708.16" width="10.80" height="41.94" fill="#000" stroke="#000" stroke-width="1.3"/>
<line x1="141.45" y1="723.89" x2="141.45" y2="720.40" stroke="#111" stroke-width="1.4" stroke-linecap="butt"/>
<line x1="138.25" y1="720.40" x2="144.65" y2="720.40" stroke="#111" stroke-width="1.4" stroke-linecap="butt"/>
<rect x="136.05" y="724.54" width="10.80" height="25.56" fill="#fff" stroke="#000" stroke-width="1.3"/>
<line x1="158.55" y1="713.52" x2="158.55" y2="711.01" stroke="#111" stroke-width="1.4" stroke-linecap="butt"/>
<line x1="155.35" y1="711.01" x2="161.75" y2="711.01" stroke="#111" stroke-width="1.4" stroke-linecap="butt"/>
<rect x="153.15" y="714.17" width="10.80" height="35.93" fill="#000" stroke="#000" stroke-width="1.3"/>
<rect x="181.95" y="721.59" width="10.80" height="28.51" fill="#fff" stroke="#000" stroke-width="1.3"/>
<line x1="204.45" y1="725.53" x2="204.45" y2="721.49" stroke="#111" stroke-width="1.4" stroke-linecap="butt"/>
<line x1="201.25" y1="721.49" x2="207.65" y2="721.49" stroke="#111" stroke-width="1.4" stroke-linecap="butt"/>
<rect x="199.05" y="726.18" width="10.80" height="23.92" fill="#000" stroke="#000" stroke-width="1.3"/>
<line x1="233.25" y1="693.32" x2="233.25" y2="689.82" stroke="#111" stroke-width="1.4" stroke-linecap="butt"/>
<line x1="230.05" y1="689.82" x2="236.45" y2="689.82" stroke="#111" stroke-width="1.4" stroke-linecap="butt"/>
<rect x="227.85" y="693.97" width="10.80" height="56.13" fill="#fff" stroke="#000" stroke-width="1.3"/>
<line x1="250.35" y1="728.26" x2="250.35" y2="723.46" stroke="#111" stroke-width="1.4" stroke-linecap="butt"/>
<line x1="247.15" y1="723.46" x2="253.55" y2="723.46" stroke="#111" stroke-width="1.4" stroke-linecap="butt"/>
<rect x="244.95" y="728.91" width="10.80" height="21.19" fill="#000" stroke="#000" stroke-width="1.3"/>
<line x1="278.85" y1="638.39" x2="278.85" y2="633.80" stroke="#111" stroke-width="1.4" stroke-linecap="butt"/>
<line x1="275.65" y1="633.80" x2="282.05" y2="633.80" stroke="#111" stroke-width="1.4" stroke-linecap="butt"/>
<rect x="273.45" y="639.04" width="10.80" height="111.06" fill="#fff" stroke="#000" stroke-width="1.3"/>
<rect x="108.30" y="587.50" width="13.80" height="10.20" fill="#fff" stroke="#000" stroke-width="1.4"/>
<text transform="translate(127.10,599.80) scale(1.0,1)" font-size="17.8" text-anchor="start" class="s" font-weight="normal" fill="#111" stroke="#111" stroke-width="0.3" >Ctrl</text>
<rect x="108.30" y="607.00" width="13.80" height="9.90" fill="#000" stroke="#000" stroke-width="1.4"/>
<text transform="translate(126.80,619.10) scale(1.0,1)" font-size="17.8" text-anchor="start" class="s" font-weight="normal" fill="#111" stroke="#111" stroke-width="0.3"  letter-spacing="-1.25">LLME</text>
<path d="M96.40,675.90 V669.40 H112.70 V675.90" fill="none" stroke="#3a3a3a" stroke-width="1.7"/>
<text transform="translate(103.65,670.33) scale(0.93,1)" font-size="16.0" text-anchor="middle" class="r" fill="#3a3a3a" stroke="#3a3a3a" stroke-width="0.55">*</text>
<path d="M232.60,676.60 V669.60 H248.50 V676.60" fill="none" stroke="#3a3a3a" stroke-width="1.7"/>
<text transform="translate(235.10,669.23) scale(0.93,1)" font-size="16.0" text-anchor="middle" class="r" fill="#3a3a3a" stroke="#3a3a3a" stroke-width="0.55">*</text>
<text transform="translate(244.40,669.23) scale(0.93,1)" font-size="16.0" text-anchor="middle" class="r" fill="#3a3a3a" stroke="#3a3a3a" stroke-width="0.55">*</text>
<text transform="translate(289.90,743.80) scale(1.14,1)" font-size="10.4" text-anchor="start" class="s" font-weight="normal" fill="#111" stroke="#111" stroke-width="0.3" >ND</text>
<text transform="translate(194.40,567.50) scale(1.05,1)" font-size="17.2" text-anchor="middle" class="s" font-weight="normal" fill="#111" stroke="#111" stroke-width="0.3" >ML</text>
<text transform="translate(4.20,556.60) scale(1.05,1)" font-size="17.5" text-anchor="start" class="s" font-weight="bold" fill="#111"  >d</text>
<text transform="translate(14.80,668.90) scale(1.05,1.056) rotate(-90)" font-size="17.2" text-anchor="middle" class="s" fill="#111" stroke="#111" stroke-width="0.3">NLRP3 mRNA expression</text>
<text transform="translate(36.70,670.20) scale(1.05,1.062) rotate(-90)" font-size="17.2" text-anchor="middle" class="s" fill="#111" stroke="#111" stroke-width="0.3">(relative value)</text>
<line x1="436.20" y1="587.50" x2="436.20" y2="752.50" stroke="#111" stroke-width="1.9" stroke-linecap="butt"/>
<line x1="426.60" y1="750.10" x2="665.30" y2="750.10" stroke="#111" stroke-width="1.7" stroke-linecap="butt"/>
<line x1="426.60" y1="750.10" x2="436.20" y2="750.10" stroke="#111" stroke-width="1.6" stroke-linecap="butt"/>
<text transform="translate(422.40,757.10) scale(1.05,1)" font-size="17.2" text-anchor="end" class="s" font-weight="normal" fill="#111" stroke="#111" stroke-width="0.3" >0</text>
<line x1="426.60" y1="696.17" x2="436.20" y2="696.17" stroke="#111" stroke-width="1.6" stroke-linecap="butt"/>
<text transform="translate(422.40,703.17) scale(1.05,1)" font-size="17.2" text-anchor="end" class="s" font-weight="normal" fill="#111" stroke="#111" stroke-width="0.3" >0.5</text>
<line x1="426.60" y1="642.23" x2="436.20" y2="642.23" stroke="#111" stroke-width="1.6" stroke-linecap="butt"/>
<text transform="translate(422.40,649.23) scale(1.05,1)" font-size="17.2" text-anchor="end" class="s" font-weight="normal" fill="#111" stroke="#111" stroke-width="0.3" >1.0</text>
<line x1="426.60" y1="588.30" x2="436.20" y2="588.30" stroke="#111" stroke-width="1.6" stroke-linecap="butt"/>
<text transform="translate(422.40,595.30) scale(1.05,1)" font-size="17.2" text-anchor="end" class="s" font-weight="normal" fill="#111" stroke="#111" stroke-width="0.3" >1.5</text>
<line x1="458.90" y1="750.10" x2="458.90" y2="758.80" stroke="#111" stroke-width="1.6" stroke-linecap="butt"/>
<text transform="translate(459.30,778.60) scale(1.05,1)" font-size="17.2" text-anchor="middle" class="s" font-weight="normal" fill="#111" stroke="#111" stroke-width="0.3" >1</text>
<line x1="503.90" y1="750.10" x2="503.90" y2="758.80" stroke="#111" stroke-width="1.6" stroke-linecap="butt"/>
<text transform="translate(504.30,778.60) scale(1.05,1)" font-size="17.2" text-anchor="middle" class="s" font-weight="normal" fill="#111" stroke="#111" stroke-width="0.3" >2</text>
<line x1="549.90" y1="750.10" x2="549.90" y2="758.80" stroke="#111" stroke-width="1.6" stroke-linecap="butt"/>
<text transform="translate(550.30,778.60) scale(1.05,1)" font-size="17.2" text-anchor="middle" class="s" font-weight="normal" fill="#111" stroke="#111" stroke-width="0.3" >4</text>
<line x1="595.55" y1="750.10" x2="595.55" y2="758.80" stroke="#111" stroke-width="1.6" stroke-linecap="butt"/>
<text transform="translate(595.95,778.60) scale(1.05,1)" font-size="17.2" text-anchor="middle" class="s" font-weight="normal" fill="#111" stroke="#111" stroke-width="0.3" >8</text>
<line x1="641.10" y1="750.10" x2="641.10" y2="758.80" stroke="#111" stroke-width="1.6" stroke-linecap="butt"/>
<text transform="translate(643.90,778.60) scale(1.05,1)" font-size="17.2" text-anchor="middle" class="s" font-weight="normal" fill="#111" stroke="#111" stroke-width="0.3" >24</text>
<text transform="translate(661.20,778.60) scale(1.05,1)" font-size="17.2" text-anchor="start" class="s" font-weight="normal" fill="#111" stroke="#111" stroke-width="0.3" >(h)</text>
<line x1="451.05" y1="698.32" x2="451.05" y2="696.17" stroke="#111" stroke-width="1.4" stroke-linecap="butt"/>
<line x1="447.85" y1="696.17" x2="454.25" y2="696.17" stroke="#111" stroke-width="1.4" stroke-linecap="butt"/>
<rect x="445.65" y="698.97" width="10.80" height="51.13" fill="#fff" stroke="#000" stroke-width="1.3"/>
<line x1="467.95" y1="717.09" x2="467.95" y2="715.37" stroke="#111" stroke-width="1.4" stroke-linecap="butt"/>
<line x1="464.75" y1="715.37" x2="471.15" y2="715.37" stroke="#111" stroke-width="1.4" stroke-linecap="butt"/>
<rect x="462.55" y="717.74" width="10.80" height="32.36" fill="#000" stroke="#000" stroke-width="1.3"/>
<rect x="490.65" y="714.08" width="10.80" height="36.02" fill="#fff" stroke="#000" stroke-width="1.3"/>
<line x1="512.95" y1="714.83" x2="512.95" y2="713.43" stroke="#111" stroke-width="1.4" stroke-linecap="butt"/>
<line x1="509.75" y1="713.43" x2="516.15" y2="713.43" stroke="#111" stroke-width="1.4" stroke-linecap="butt"/>
<rect x="507.55" y="715.48" width="10.80" height="34.62" fill="#000" stroke="#000" stroke-width="1.3"/>
<line x1="542.05" y1="700.48" x2="542.05" y2="698.11" stroke="#111" stroke-width="1.4" stroke-linecap="butt"/>
<line x1="538.85" y1="698.11" x2="545.25" y2="698.11" stroke="#111" stroke-width="1.4" stroke-linecap="butt"/>
<rect x="536.65" y="701.13" width="10.80" height="48.97" fill="#fff" stroke="#000" stroke-width="1.3"/>
<line x1="558.95" y1="699.19" x2="558.95" y2="697.25" stroke="#111" stroke-width="1.4" stroke-linecap="butt"/>
<line x1="555.75" y1="697.25" x2="562.15" y2="697.25" stroke="#111" stroke-width="1.4" stroke-linecap="butt"/>
<rect x="553.55" y="699.84" width="10.80" height="50.26" fill="#000" stroke="#000" stroke-width="1.3"/>
<line x1="587.70" y1="724.75" x2="587.70" y2="722.92" stroke="#111" stroke-width="1.4" stroke-linecap="butt"/>
<line x1="584.50" y1="722.92" x2="590.90" y2="722.92" stroke="#111" stroke-width="1.4" stroke-linecap="butt"/>
<rect x="582.30" y="725.40" width="10.80" height="24.70" fill="#fff" stroke="#000" stroke-width="1.3"/>
<line x1="604.60" y1="613.97" x2="604.60" y2="600.70" stroke="#111" stroke-width="1.4" stroke-linecap="butt"/>
<line x1="601.40" y1="600.70" x2="607.80" y2="600.70" stroke="#111" stroke-width="1.4" stroke-linecap="butt"/>
<rect x="599.20" y="614.62" width="10.80" height="135.48" fill="#000" stroke="#000" stroke-width="1.3"/>
<line x1="633.25" y1="642.77" x2="633.25" y2="637.06" stroke="#111" stroke-width="1.4" stroke-linecap="butt"/>
<line x1="630.05" y1="637.06" x2="636.45" y2="637.06" stroke="#111" stroke-width="1.4" stroke-linecap="butt"/>
<rect x="627.85" y="643.42" width="10.80" height="106.68" fill="#fff" stroke="#000" stroke-width="1.3"/>
<rect x="461.10" y="587.10" width="13.20" height="10.20" fill="#fff" stroke="#000" stroke-width="1.4"/>
<text transform="translate(480.30,597.10) scale(1.0,1)" font-size="17.8" text-anchor="start" class="s" font-weight="normal" fill="#111" stroke="#111" stroke-width="0.3" >Ctrl</text>
<rect x="461.10" y="606.70" width="13.20" height="9.90" fill="#000" stroke="#000" stroke-width="1.4"/>
<text transform="translate(480.00,616.30) scale(1.0,1)" font-size="17.8" text-anchor="start" class="s" font-weight="normal" fill="#111" stroke="#111" stroke-width="0.3"  letter-spacing="-1.25">LLME</text>
<path d="M450.10,683.00 V676.50 H466.70 V683.00" fill="none" stroke="#3a3a3a" stroke-width="1.7"/>
<text transform="translate(453.75,677.73) scale(0.93,1)" font-size="16.0" text-anchor="middle" class="r" fill="#3a3a3a" stroke="#3a3a3a" stroke-width="0.55">*</text>
<text transform="translate(463.05,677.73) scale(0.93,1)" font-size="16.0" text-anchor="middle" class="r" fill="#3a3a3a" stroke="#3a3a3a" stroke-width="0.55">*</text>
<path d="M588.70,594.00 V587.50 H604.50 V594.00" fill="none" stroke="#3a3a3a" stroke-width="1.7"/>
<text transform="translate(591.95,588.73) scale(0.93,1)" font-size="16.0" text-anchor="middle" class="r" fill="#3a3a3a" stroke="#3a3a3a" stroke-width="0.55">*</text>
<text transform="translate(601.25,588.73) scale(0.93,1)" font-size="16.0" text-anchor="middle" class="r" fill="#3a3a3a" stroke="#3a3a3a" stroke-width="0.55">*</text>
<text transform="translate(643.80,743.90) scale(1.14,1)" font-size="10.4" text-anchor="start" class="s" font-weight="normal" fill="#111" stroke="#111" stroke-width="0.3" >ND</text>
<text transform="translate(546.10,567.10) scale(1.05,1)" font-size="17.2" text-anchor="middle" class="s" font-weight="normal" fill="#111" stroke="#111" stroke-width="0.3" >ML</text>
<text transform="translate(354.80,556.40) scale(1.05,1)" font-size="17.5" text-anchor="start" class="s" font-weight="bold" fill="#111"  >e</text>
<text transform="translate(371.00,669.20) scale(1.05,1.056) rotate(-90)" font-size="17.2" text-anchor="middle" class="s" fill="#111" stroke="#111" stroke-width="0.3">IL1B mRNA expression</text>
<text transform="translate(392.40,669.05) scale(1.05,1.05) rotate(-90)" font-size="17.2" text-anchor="middle" class="s" fill="#111" stroke="#111" stroke-width="0.3">(relative value)</text>
</svg>
</body></html>
